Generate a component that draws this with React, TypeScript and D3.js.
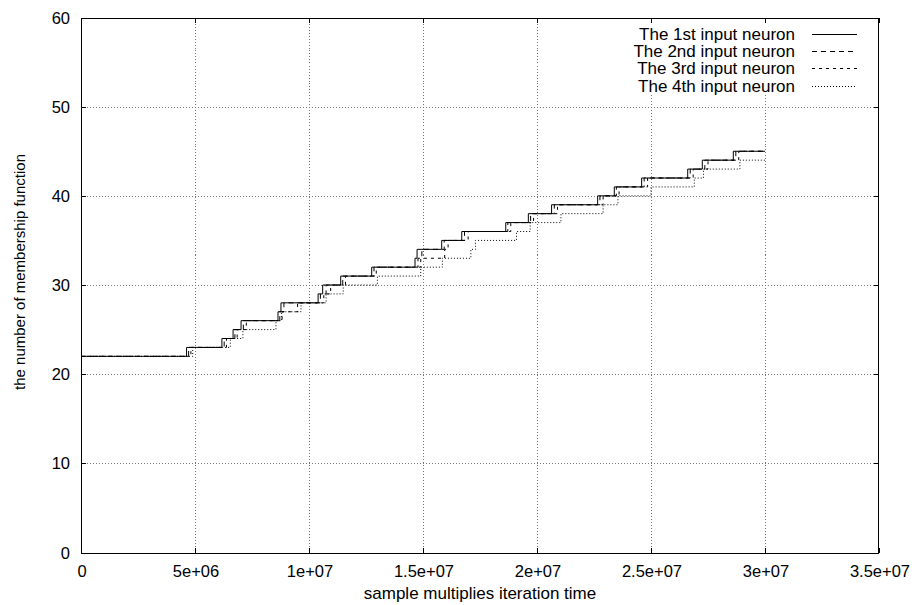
import React from "react";
import * as d3 from "d3";

// Step changes: x positions (millions of samples × iterations) and the count after each step
const s1X = [0, 4.63, 6.18, 6.67, 7.02, 8.64, 8.77, 10.4, 10.6, 11.39, 12.75, 14.65, 14.74, 15.82, 16.7, 18.63, 19.62, 20.64, 22.66, 23.39, 24.59, 26.61, 27.25, 28.61];
const s1Y = [22, 23, 24, 25, 26, 27, 28, 29, 30, 31, 32, 33, 34, 35, 36, 37, 38, 39, 40, 41, 42, 43, 44, 45];

const s2X = [0, 4.72, 6.28, 6.75, 7.12, 8.72, 8.9, 10.5, 10.75, 11.48, 12.85, 14.78, 14.95, 15.93, 16.82, 18.72, 19.72, 20.76, 22.76, 23.48, 24.7, 26.72, 27.36, 28.72];
const s2Y = [22, 23, 24, 25, 26, 27, 28, 29, 30, 31, 32, 33, 34, 35, 36, 37, 38, 39, 40, 41, 42, 43, 44, 45];

const s3X = [0, 4.82, 6.38, 6.85, 7.25, 8.82, 9.5, 10.65, 10.95, 11.6, 12.95, 14.9, 15.95, 16.1, 16.98, 18.85, 19.85, 20.9, 22.9, 23.6, 24.85, 26.85, 27.5, 28.85];
const s3Y = [22, 23, 24, 25, 26, 27, 28, 29, 30, 31, 32, 33, 34, 35, 36, 37, 38, 39, 40, 41, 42, 43, 44, 45];

const s4X = [0, 4.9, 6.55, 7.1, 8.55, 8.8, 9.65, 10.75, 11.5, 13.0, 14.9, 15.85, 17.1, 17.3, 19.1, 19.7, 21.05, 22.9, 23.55, 25.0, 26.9, 27.3, 28.9];
const s4Y = [22, 23, 24, 25, 26, 27, 28, 29, 30, 31, 32, 33, 34, 35, 36, 37, 38, 39, 40, 41, 42, 43, 44];

const runEnd = 30; // last sample, millions

const seriesNames = ["The 1st input neuron", "The 2nd input neuron", "The 3rd input neuron", "The 4th input neuron"];
const seriesDash = ["", "5,4", "3,4", "1,2"];

const xTicks = [0, 5e6, 1e7, 1.5e7, 2e7, 2.5e7, 3e7, 3.5e7];
const xTickLabels = ["0", "5e+06", "1e+07", "1.5e+07", "2e+07", "2.5e+07", "3e+07", "3.5e+07"];
const yTicks = [0, 10, 20, 30, 40, 50, 60];

const W = 915;
const H = 605;
const left = 81;
const right = 879;
const top = 17.5;
const bottom = 552.5;
const FONT = "'Liberation Sans', Arial, Helvetica, sans-serif";

export default function App() {
  const x = d3.scaleLinear().domain([0, 3.5e7]).range([left, right]);
  const y = d3.scaleLinear().domain([0, 60]).range([bottom, top]);

  const allX = [s1X, s2X, s3X, s4X];
  const allY = [s1Y, s2Y, s3Y, s4Y];

  const line = d3
    .line<[number, number]>()
    .x((d) => x(d[0] * 1e6))
    .y((d) => y(d[1]))
    .curve(d3.curveStepAfter);

  const paths = allX.map((xs, i) => {
    const ys = allY[i];
    const pts: [number, number][] = xs.map((v, j) => [v, ys[j]]);
    pts.push([runEnd, ys[ys.length - 1]]);
    return line(pts) || "";
  });

  const tickLen = 5;
  const px = (v: number) => Math.round(v) + 0.5;

  return (
    <svg
      width={W}
      height={H}
      style={{ position: "absolute", left: 0, top: 0, background: "#fff" }}
      fontFamily={FONT}
    >
      <rect x={0} y={0} width={W} height={H} fill="#fff" />
      {/* grid */}
      <g stroke="#777" strokeWidth={1} strokeDasharray="1,2" shapeRendering="crispEdges">
        {xTicks.slice(1, -1).map((t) => (
          <line key={"gx" + t} x1={px(x(t))} x2={px(x(t))} y1={top} y2={bottom} />
        ))}
        {yTicks.slice(1, -1).map((t) => (
          <line key={"gy" + t} x1={left} x2={right} y1={px(y(t))} y2={px(y(t))} />
        ))}
      </g>
      {/* key background */}
      <rect x={630} y={19} width={236} height={75} fill="#fff" />
      {/* ticks */}
      <g stroke="#000" strokeWidth={1} shapeRendering="crispEdges">
        {xTicks.map((t) => (
          <g key={"tx" + t}>
            <line x1={px(x(t))} x2={px(x(t))} y1={bottom} y2={bottom - tickLen} />
            <line x1={px(x(t))} x2={px(x(t))} y1={top} y2={top + tickLen} />
          </g>
        ))}
        {yTicks.map((t) => (
          <g key={"ty" + t}>
            <line x1={left} x2={left + tickLen} y1={px(y(t))} y2={px(y(t))} />
            <line x1={right} x2={right - tickLen} y1={px(y(t))} y2={px(y(t))} />
          </g>
        ))}
      </g>
      {/* tick labels */}
      <g fontSize={16.5} fill="#000">
        {xTicks.map((t, i) => (
          <text key={"lx" + t} x={x(t) + 1} y={577} textAnchor="middle">
            {xTickLabels[i]}
          </text>
        ))}
        {yTicks.map((t) => (
          <text key={"ly" + t} x={70} y={y(t) + 6} textAnchor="end">
            {t}
          </text>
        ))}
      </g>
      {/* axis titles */}
      <text x={(left + right) / 2} y={599} textAnchor="middle" fontSize={17}>
        sample multiplies iteration time
      </text>
      <text transform="translate(25,272) rotate(-90)" textAnchor="middle" fontSize={15}>
        the number of membership function
      </text>
      {/* series */}
      <g fill="none" stroke="#000" strokeWidth={1}>
        {paths.map((d, i) => (
          <path key={"p" + i} d={d} strokeDasharray={seriesDash[i] || undefined} />
        ))}
      </g>
      {/* key */}
      <g fontSize={17}>
        {seriesNames.map((name, i) => {
          const ry = 33.5 + i * 17.4;
          return (
            <g key={"k" + i}>
              <text x={795} y={ry + 6} textAnchor="end">
                {name}
              </text>
              <line
                x1={812}
                x2={857}
                y1={px(ry)}
                y2={px(ry)}
                stroke="#000"
                strokeWidth={1}
                strokeDasharray={seriesDash[i] || undefined}
              />
            </g>
          );
        })}
      </g>
      {/* frame */}
      <rect
        x={left + 0.5}
        y={Math.round(top) + 0.5}
        width={right - left - 1}
        height={Math.round(bottom) - Math.round(top)}
        fill="none"
        stroke="#000"
        strokeWidth={1}
        shapeRendering="crispEdges"
      />
    </svg>
  );
}
